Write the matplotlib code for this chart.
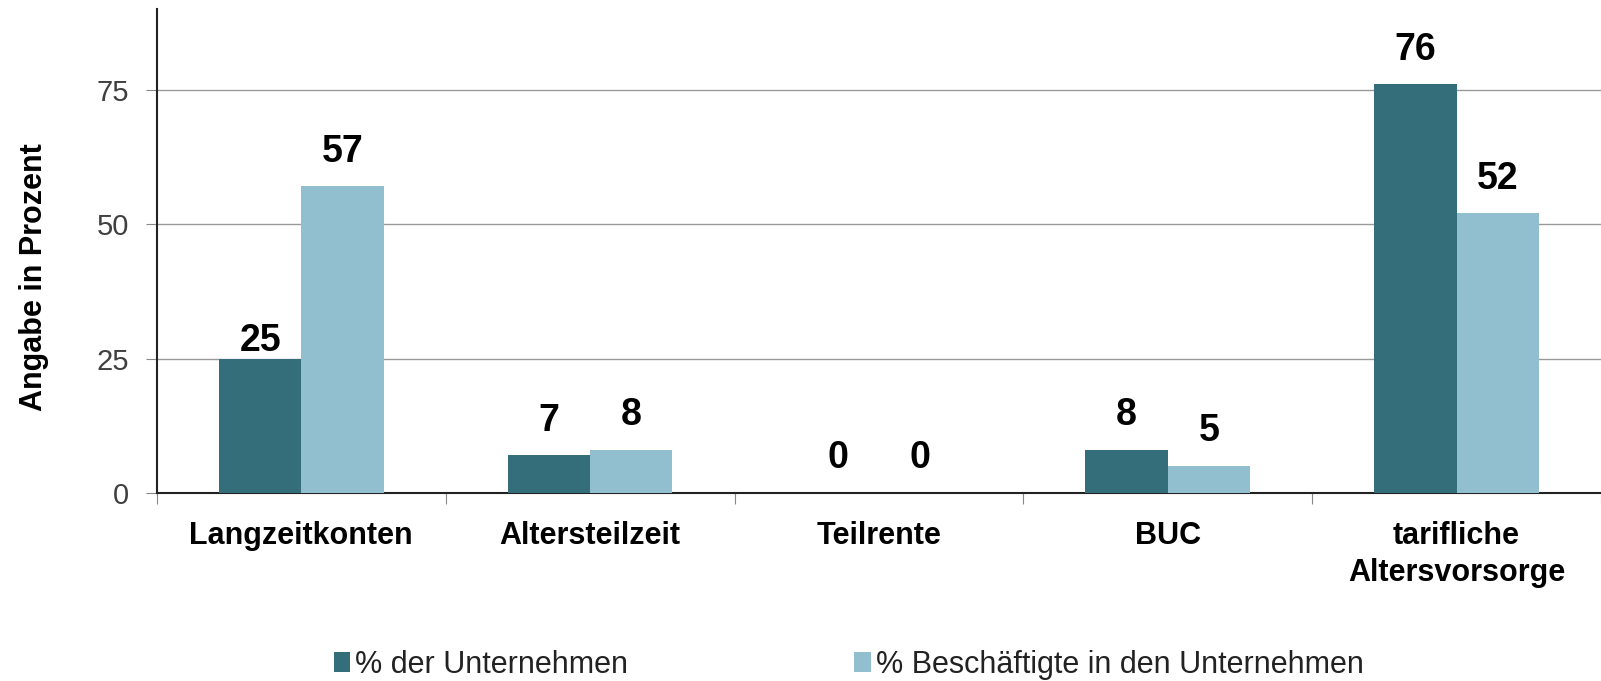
import matplotlib.pyplot as plt
import numpy as np

plt.rcParams['font.family'] = ['Liberation Sans', 'DejaVu Sans']

# --- données ---
categories = ['Langzeitkonten', 'Altersteilzeit', 'Teilrente', 'BUC', 'tarifliche\nAltersvorsorge']
unternehmen = [25, 7, 0, 8, 76]
beschaeftigte = [57, 8, 0, 5, 52]
labels_u = ['25', '7', '0', '8', '76']
labels_b = ['57', '8', '0', '5', '52']
series_names = ['% der Unternehmen', '% Beschäftigte in den Unternehmen']

col_dark = '#346E7B'
col_light = '#92BFD0'

fig = plt.figure(figsize=(16.01, 6.81), dpi=100)
ax = fig.add_axes([0.098, 0.276, 0.902, 0.711])

x = np.arange(len(categories))
w = 0.285
b1 = ax.bar(x - w / 2, unternehmen, w, color=col_dark, label=series_names[0], zorder=3)
b2 = ax.bar(x + w / 2, beschaeftigte, w, color=col_light, label=series_names[1], zorder=3)

# valeurs au-dessus des barres (le "25" est posé plus bas dans l'original)
offsets_u = [0, 12, 12, 12, 12]
offsets_b = [12, 12, 12, 12, 12]
for bars, labs, offs in [(b1, labels_u, offsets_u), (b2, labels_b, offsets_b)]:
    for rect, lab, off in zip(bars, labs, offs):
        ax.annotate(lab, (rect.get_x() + rect.get_width() / 2, rect.get_height()),
                    xytext=(0, off), textcoords='offset points', ha='center', va='bottom',
                    fontsize=27, fontweight='bold', color='black')

ax.set_xlim(-0.5, len(categories) - 0.5)
ax.set_ylim(0, 90)
ax.set_yticks([0, 25, 50, 75])
ax.tick_params(axis='y', labelsize=21, labelcolor='#404040', color='#888888', length=8, pad=12)
ax.yaxis.grid(True, color='#999999', linewidth=1, zorder=0)

# graduations entre catégories, étiquettes au centre
ax.set_xticks(np.arange(len(categories) + 1) - 0.5)
ax.set_xticklabels([])
ax.set_xticks(x, minor=True)
ax.set_xticklabels(categories, minor=True, fontsize=22, fontweight='bold', linespacing=1.3)
ax.tick_params(axis='x', which='major', color='#888888', length=8)
ax.tick_params(axis='x', which='minor', length=0, pad=20)

for s in ['top', 'right']:
    ax.spines[s].set_visible(False)
ax.spines['left'].set_color('#222222')
ax.spines['bottom'].set_color('#222222')
ax.spines['left'].set_linewidth(1.5)
ax.spines['bottom'].set_linewidth(1.5)

ax.set_ylabel('Angabe in Prozent', fontsize=22, fontweight='bold')
ax.yaxis.set_label_coords(-0.075, 0.446)

fig.legend(handles=[b1, b2], labels=series_names, loc='center', bbox_to_anchor=(0.53, 0.024),
           ncol=2, frameon=False, fontsize=22, handlelength=0.55, handleheight=0.6,
           handletextpad=0.15, columnspacing=7.4, labelcolor='#222222')

plt.savefig('out.png', dpi=100)
